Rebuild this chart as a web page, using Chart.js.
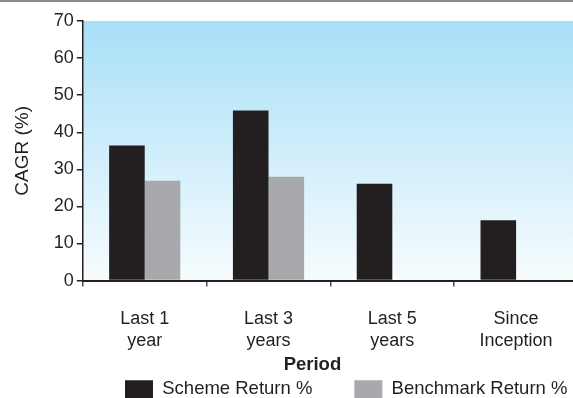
<!DOCTYPE html>
<html>
<head>
<meta charset="utf-8">
<script src="https://cdn.jsdelivr.net/npm/chart.js@4/dist/chart.umd.min.js"></script>
<style>
  html, body { margin: 0; padding: 0; background: #ffffff; overflow: hidden; width: 573px; height: 398px; }
  #wrap { position: relative; width: 573px; height: 398px; overflow: hidden; }
  #wrap canvas { position: absolute; left: 0; top: 0; }
  #rule { position: absolute; left: 0; top: 0; width: 573px; height: 0; border-top: 2px solid #8c8c8c; }
</style>
</head>
<body>
<div id="wrap">
  <canvas id="chart" width="578" height="398" style="width:578px;height:398px"></canvas>
  <div id="rule"></div>
</div>
<script>
// Period buckets (two-line axis labels)
const periods = [["Last 1", "year"], ["Last 3", "years"], ["Last 5", "years"], ["Since", "Inception"]];
// Compound annual growth, percent
const schemeReturn = [36.4, 45.9, 26.1, 16.3];
const benchmarkReturn = [26.9, 28.0, null, null];
// Value axis
const yMin = 0;
const yMax = 70;
const yStep = 10;

const INK = '#231f20';
const FONT = '"Liberation Sans", Arial, Helvetica, sans-serif';
const LEGEND_GAP = 42;

// Sky-blue wash behind the bars
const plotBackground = {
  id: 'plotBackground',
  beforeDraw(chart) {
    const { ctx, chartArea } = chart;
    if (!chartArea) return;
    const { left, top, right, bottom } = chartArea;
    const g = ctx.createLinearGradient(0, top, 0, bottom);
    g.addColorStop(0, '#a8dff7');
    g.addColorStop(1, '#f7fcfe');
    ctx.save();
    ctx.fillStyle = g;
    ctx.fillRect(left, top, right - left, bottom - top);
    ctx.restore();
  }
};

// Legend row along the bottom edge, left-aligned under the bars;
// the axis title sits a little left of the plot centre
const placement = {
  id: 'placement',
  afterLayout(chart) {
    const lg = chart.legend;
    if (lg) {
      lg.left = 125 - LEGEND_GAP;
      lg.right = 900;
      lg.top = 380 - LEGEND_GAP;
      lg.bottom = 400;
      lg.height = lg.bottom - lg.top;
    }
    const x = chart.scales.x;
    if (x && !x._titleShifted) {
      const drawTitle = x.drawTitle;
      x.drawTitle = function () {
        const ctx = this.ctx;
        ctx.save();
        ctx.translate(-18, 0);
        drawTitle.apply(this, arguments);
        ctx.restore();
      };
      x._titleShifted = true;
    }
  }
};

new Chart(document.getElementById('chart'), {
  type: 'bar',
  data: {
    labels: periods,
    datasets: [
      { label: 'Scheme Return %', data: schemeReturn, backgroundColor: '#231f20', borderWidth: 0 },
      { label: 'Benchmark Return %', data: benchmarkReturn, backgroundColor: '#a7a9ac', borderWidth: 0 }
    ]
  },
  options: {
    responsive: false,
    animation: false,
    events: [],
    categoryPercentage: 0.575,
    barPercentage: 1.0,
    layout: { padding: { top: 21, left: 0, right: 0, bottom: 12 } },
    plugins: {
      tooltip: { enabled: false },
      legend: {
        position: 'bottom',
        align: 'start',
        maxHeight: 10,
        labels: {
          boxWidth: 28,
          boxHeight: 18,
          padding: LEGEND_GAP,
          color: INK,
          font: { family: FONT, size: 18.5 }
        }
      }
    },
    scales: {
      x: {
        grid: {
          display: true,
          drawOnChartArea: false,
          drawTicks: true,
          tickLength: 6,
          color: '#4a4a4a',
          lineWidth: 1.5,
          offset: true
        },
        border: { display: true, color: INK, width: 2 },
        ticks: {
          color: INK,
          padding: 22,
          maxRotation: 0,
          autoSkip: false,
          font: { family: FONT, size: 18, lineHeight: 1.2 }
        },
        title: {
          display: true,
          text: 'Period',
          color: INK,
          padding: { top: -20, bottom: 0 },
          font: { family: FONT, size: 18.5, weight: 'bold', lineHeight: 1.2 }
        }
      },
      y: {
        min: yMin,
        max: yMax,
        grid: {
          display: true,
          drawOnChartArea: false,
          drawTicks: true,
          tickLength: 6,
          color: INK,
          lineWidth: 1.5
        },
        border: { display: true, color: INK, width: 1.5 },
        ticks: {
          stepSize: yStep,
          color: INK,
          padding: 3,
          font: { family: FONT, size: 18 }
        },
        title: {
          display: true,
          text: 'CAGR (%)',
          color: INK,
          padding: { top: 11, bottom: 17 },
          font: { family: FONT, size: 19, lineHeight: 1.2 }
        }
      }
    }
  },
  plugins: [plotBackground, placement]
});
</script>
</body>
</html>
